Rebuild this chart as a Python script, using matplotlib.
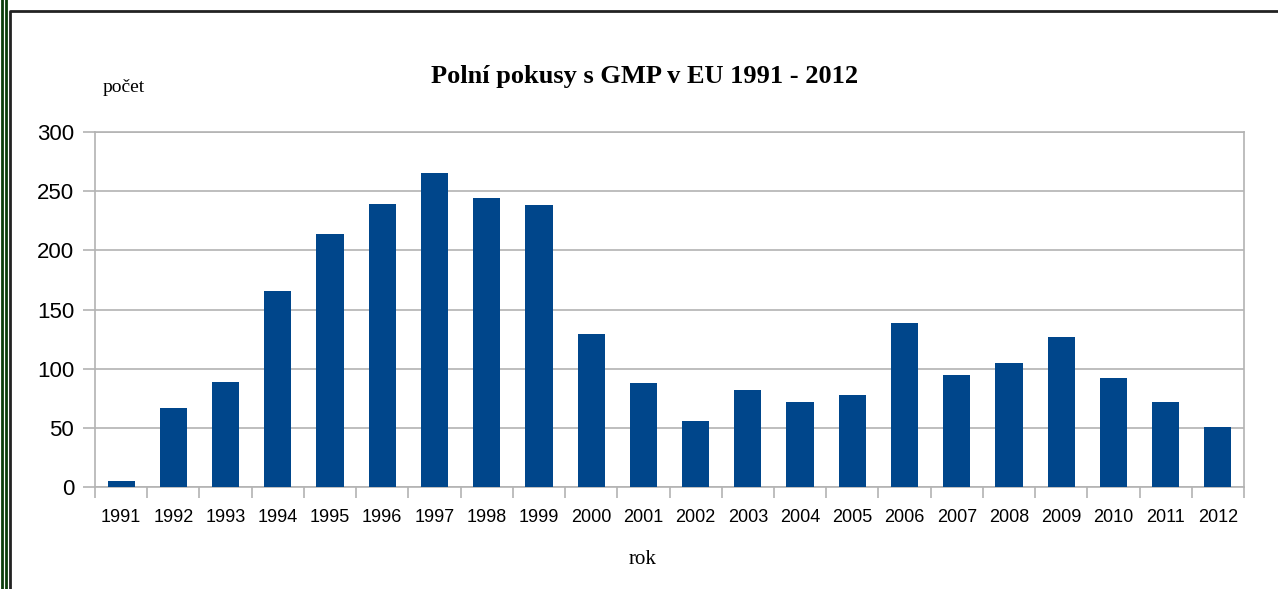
import numpy as np
import matplotlib.pyplot as plt
from matplotlib.lines import Line2D

years = ['1991', '1992', '1993', '1994', '1995', '1996', '1997', '1998', '1999', '2000', '2001',
         '2002', '2003', '2004', '2005', '2006', '2007', '2008', '2009', '2010', '2011', '2012']
counts = [5, 67, 89, 166, 214, 239, 265, 244, 238, 129, 88,
          56, 82, 72, 78, 139, 95, 105, 127, 92, 72, 51]
y_ticks = [0, 50, 100, 150, 200, 250, 300]

BAR_COLOR = '#00468b'
GRID = '#b3b3b3'

fig = plt.figure(figsize=(12.78, 5.89), dpi=100)
ax = fig.add_axes([95/1278, 1 - 487/589, (1244 - 95)/1278, (487 - 132)/589])

x = np.arange(len(years))
ax.bar(x, counts, width=0.52, color=BAR_COLOR, zorder=3)

ax.set_xlim(-0.5, len(years) - 0.5)
ax.set_ylim(0, 300)
ax.set_yticks(y_ticks)
ax.set_yticklabels([str(v) for v in y_ticks], fontsize=16, family='Liberation Sans')
ax.set_xticks(x)
ax.set_xticklabels(years, fontsize=13, family='Liberation Sans')
ax.set_xticks(np.arange(len(years) + 1) - 0.5, minor=True)
ax.tick_params(axis='x', which='major', length=0, pad=16)
ax.tick_params(axis='x', which='minor', length=8, color=GRID, width=1.2)
ax.tick_params(axis='y', length=9, color=GRID, width=1.2, pad=6)

ax.grid(axis='y', color=GRID, linewidth=1.2, zorder=0)
for s in ax.spines.values():
    s.set_color(GRID)
    s.set_linewidth(1.2)

fig.text(645/1278, 1 - 76/589, 'Polní pokusy s GMP v EU 1991 - 2012', ha='center', va='center',
         family='Liberation Serif', fontweight='bold', fontsize=19)
fig.text(103/1278, 1 - 88/589, 'počet', ha='left', va='center',
         family='Liberation Serif', fontsize=14)
fig.text(643/1278, 1 - 560/589, 'rok', ha='center', va='center',
         family='Liberation Serif', fontsize=15)

# frame around the chart
W, H = 1278, 589
def px(xp, yp):
    return [v / W for v in xp], [1 - v / H for v in yp]
for xs in [1.5, 6]:
    xx, yy = px([xs, xs], [0, H])
    fig.add_artist(Line2D(xx, yy, color='#0b3d0b', linewidth=2))
xx, yy = px([10, 10, W], [H, 11, 11])
fig.add_artist(Line2D(xx, yy, color='#222222', linewidth=2))

fig.savefig('out.png', dpi=100)
